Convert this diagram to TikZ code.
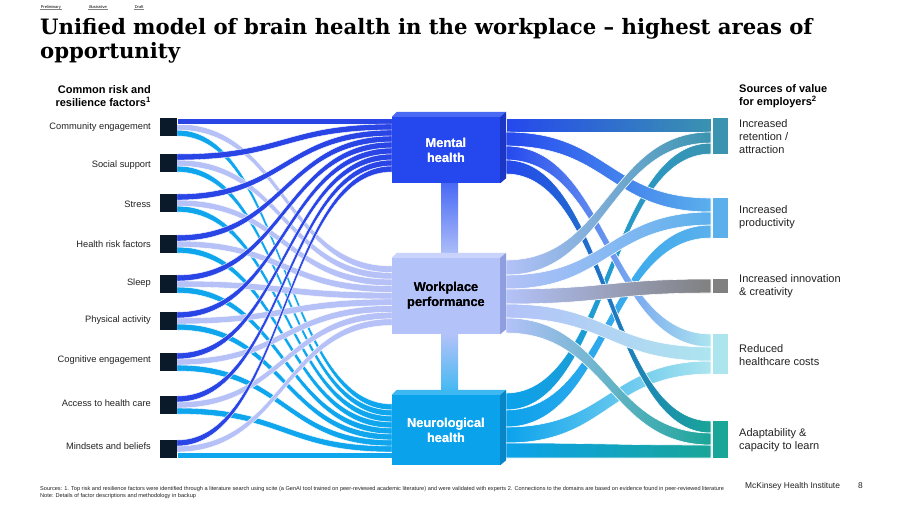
\documentclass[tikz,border=0pt]{standalone}
\usepackage{fontspec}
\setmainfont{Liberation Sans}
\newfontfamily\titlefont{DejaVu Serif}
\definecolor{mblue}{HTML}{2548EE}
\definecolor{mblueTop}{HTML}{4A6AF5}
\definecolor{mblueSide}{HTML}{1B35C4}
\definecolor{lav}{HTML}{B3C2F8}
\definecolor{lavTop}{HTML}{C9D3FB}
\definecolor{lavSide}{HTML}{8E9EDF}
\definecolor{cyanb}{HTML}{0BA2EC}
\definecolor{cyanbTop}{HTML}{3DB8F2}
\definecolor{cyanbSide}{HTML}{0885C6}
\definecolor{navy}{HTML}{0B1A2B}
\definecolor{lblue}{HTML}{2A45E6}
\definecolor{llav}{HTML}{B5C1F7}
\definecolor{lcyan}{HTML}{10A6EE}
\definecolor{ret}{HTML}{3A93AF}
\definecolor{prod}{HTML}{5BB0EC}
\definecolor{inno}{HTML}{808080}
\definecolor{hc}{HTML}{ADE5EF}
\definecolor{adapt}{HTML}{19A598}
\definecolor{txt}{HTML}{222222}
\newcommand\band[7]{%
  \path[#1] (#2,#3) .. controls ({(#2+#5)/2},#3) and ({(#2+#5)/2},#6) .. (#5,#6)
    -- (#5,#7) .. controls ({(#2+#5)/2},#7) and ({(#2+#5)/2},#4) .. (#2,#4) -- cycle;}
\newcommand\cubefaces[2]{%
  \fill[#2Top] (#1.north west) -- ++(5,-5) -- ([xshift=6pt,yshift=5pt]#1.north east) -- (#1.north east) -- cycle;
  \fill[#2Side] (#1.north east) -- ++(6,-5) -- ([xshift=6pt,yshift=5pt]#1.south east) -- (#1.south east) -- cycle;}
\begin{document}
\begin{tikzpicture}[x=1pt,y=-1pt,
  lb/.style={fill=lblue,draw=white,line width=0.4pt},
  ll/.style={fill=llav,draw=white,line width=0.4pt},
  lc/.style={fill=lcyan,draw=white,line width=0.4pt},
  rb/.style={draw=white,line width=0.6pt},
  fbox/.style={fill=navy,minimum width=17pt,minimum height=18pt,inner sep=0pt},
  tbox/.style={minimum width=15pt,inner sep=0pt},
  cbox/.style={minimum width=108pt,inner sep=0pt,align=center,font=\fontsize{12.8}{15}\selectfont\bfseries},
  flabel/.style={anchor=east,font=\fontsize{9.3}{11}\selectfont,text=txt,inner sep=0pt},
  rlabel/.style={anchor=west,align=left,font=\fontsize{11}{13}\selectfont,text=txt,inner sep=0pt},
  head/.style={font=\fontsize{11}{12.5}\selectfont\bfseries,inner sep=0pt},
  tag/.style={anchor=base west,font=\fontsize{4}{4}\selectfont,inner sep=0.6pt},
  ttl/.style={anchor=base west,inner sep=0pt,font=\titlefont\bfseries\fontsize{21.2}{24}\selectfont}]
\useasboundingbox[fill=white] (0,0) rectangle (904,504);

% tags
\node[tag] (t1) at (40,8) {Preliminary};
\node[tag] (t2) at (88,8) {Illustrative};
\node[tag] (t3) at (134,8) {Draft};
\foreach \t in {t1,t2,t3} \draw[gray,line width=0.5pt] (\t.south west) -- (\t.south east);

% title
\node[ttl] (title1) at (40,34) {Unified model of brain health in the workplace \textendash{} highest areas of};
\node[ttl] (title2) at (40,58) {opportunity};

% left bands
\foreach \t [count=\k from 0] in {118,154,194,235,275,312,353,396,440}{
  \band{lc}{177}{\t+12}{\t+18}{392}{404+6*\k}{410+6*\k}
}
\foreach \t [count=\k from 0] in {118,154,194,235,275,312,353,396,440}{
  \band{ll}{177}{\t+6}{\t+12}{392}{266+6.6*\k}{272.6+6.6*\k}
}
\foreach \t [count=\k from 0] in {118,154,194,235,275,312,353,396,440}{
  \band{lb}{177}{\t}{\t+6}{392}{118+6*\k}{124+6*\k}
}
% factor boxes and labels
\foreach \t/\n/\ly [count=\k] in {118/Community engagement/127,154/Social support/165,194/Stress/204,235/Health risk factors/244,275/Sleep/283,312/Physical activity/320,353/Cognitive engagement/360,396/Access to health care/403,440/Mindsets and beliefs/446}{
  \node[fbox] (f\k) at (168.5,\t+9) {};
  \node[flabel] (fl\k) at (151,\ly) {\n};
}

% right bands
\band{rb,left color=cyanb,right color=ret}{506}{393}{410}{711}{143}{154}
\band{rb,left color=cyanb,right color=prod}{506}{410}{427}{711}{225}{238}
\band{rb,left color=cyanb,right color=hc}{506}{427}{443}{711}{361}{374}
\band{rb,left color=cyanb,right color=adapt}{506}{443}{458}{711}{445}{458}
\band{rb,left color=mblue,right color=ret}{506}{118}{132}{711}{118}{132}
\band{rb,left color=mblue,right color=prod}{506}{132}{146}{711}{198}{212}
\band{rb,left color=mblue,right color=hc}{506}{146}{160}{711}{334}{347}
\band{rb,left color=mblue,right color=adapt}{506}{160}{174}{711}{421}{433}
\band{rb,left color=lav,right color=ret}{506}{260}{275}{711}{132}{143}
\band{rb,left color=lav,right color=prod}{506}{275}{289}{711}{212}{225}
\band{rb,left color=lav,right color=inno}{506}{289}{304}{711}{279}{293}
\band{rb,left color=lav,right color=hc}{506}{304}{318}{711}{347}{361}
\band{rb,left color=lav,right color=adapt}{506}{318}{333}{711}{433}{445}

% target boxes
\node[tbox,fill=ret,minimum height=36pt] (vret) at (720.5,136) {};
\node[tbox,fill=prod,minimum height=40pt] (vprod) at (720.5,218) {};
\node[tbox,fill=inno,minimum height=14pt] (vinno) at (720.5,286) {};
\node[tbox,fill=hc,minimum height=40pt] (vhc) at (720.5,354) {};
\node[tbox,fill=adapt,minimum height=37pt] (vad) at (720.5,439.5) {};

% center boxes
\node[cbox,fill=mblue,text=white,minimum height=66pt] (mental) at (446,150) {Mental\\health};
\node[cbox,fill=lav,text=black,minimum height=76pt] (wp) at (446,296) {Workplace\\performance};
\node[cbox,fill=cyanb,text=white,minimum height=70pt] (neuro) at (446,430) {Neurological\\health};
\shade[top color=mblueTop,bottom color=lav] ([xshift=-5pt]mental.south) rectangle ([xshift=12pt]wp.north);
\shade[top color=lav,bottom color=cyanbTop] ([xshift=-5pt]wp.south) rectangle ([xshift=12pt]neuro.north);
\cubefaces{mental}{mblue}
\cubefaces{wp}{lav}
\cubefaces{neuro}{cyanb}
\node[cbox,text=white] at (mental.center) {Mental\\health};
\node[cbox,text=black] at (wp.center) {Workplace\\performance};
\node[cbox,text=white] at (neuro.center) {Neurological\\health};

% headers
\node[head,anchor=east,align=right] (lhead) at (151,96) {Common risk and\\resilience factors\textsuperscript{1}};
\node[head,anchor=west,align=left] (rhead) at (739,96) {Sources of value\\for employers\textsuperscript{2}};

% right labels
\node[rlabel] (lret) at (739,137) {Increased\\retention /\\attraction};
\node[rlabel] (lprod) at (739,217) {Increased\\productivity};
\node[rlabel] (linno) at (739,286) {Increased innovation\\\& creativity};
\node[rlabel] (lhc) at (739,355) {Reduced\\healthcare costs};
\node[rlabel] (lad) at (739,440) {Adaptability \&\\capacity to learn};

% footer
\node[anchor=base west,inner sep=0pt,font=\fontsize{5.6}{6}\selectfont,text=txt] (src) at (40,490) {Sources: 1. Top risk and resilience factors were identified through a literature search using scite (a GenAI tool trained on peer-reviewed academic literature) and were validated with experts 2. Connections to the domains are based on evidence found in peer-reviewed literature};
\node[anchor=base west,inner sep=0pt,font=\fontsize{5.6}{6}\selectfont,text=txt] (note) at (40,497) {Note: Details of factor descriptions and methodology in backup};
\node[anchor=base west,inner sep=0pt,font=\fontsize{8.4}{10}\selectfont,text=txt] (mhi) at (745,488) {McKinsey Health Institute};
\node[anchor=base west,inner sep=0pt,font=\fontsize{8.4}{10}\selectfont,text=txt] (pg) at (858,488) {8};
\end{tikzpicture}
\end{document}
